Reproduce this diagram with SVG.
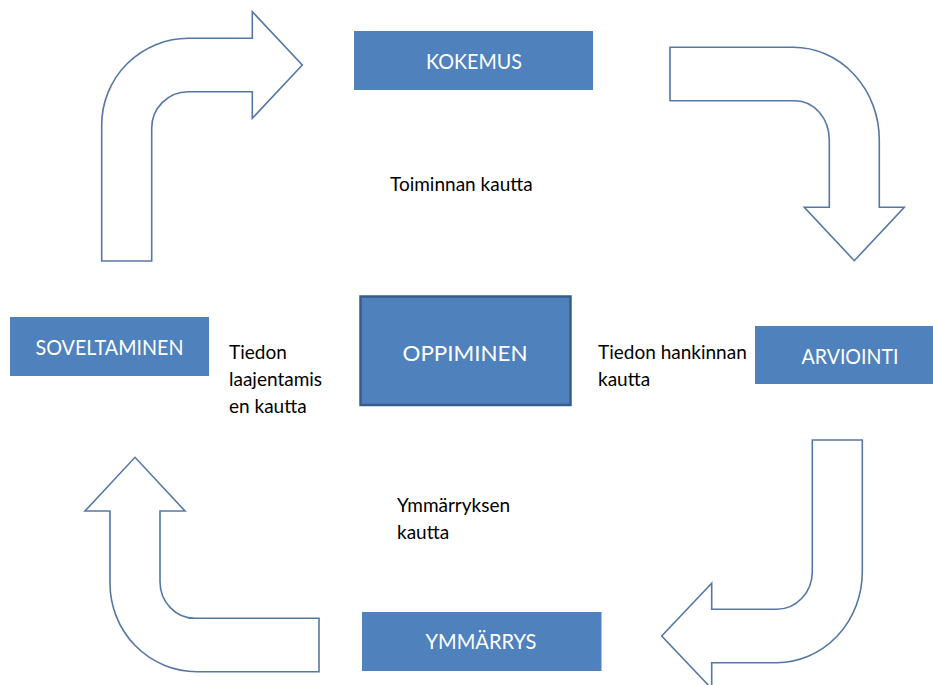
<svg xmlns="http://www.w3.org/2000/svg" width="933" height="685" viewBox="0 0 933 685">
<style>
.arrow{fill:#ffffff;stroke:#5577a6;stroke-width:1.6;stroke-linejoin:miter}
.box{fill:#4f81bd}
.main{fill:#4f81bd;stroke:#385d8a;stroke-width:2.5}
.bt{font-family:Lato,"Open Sans","Liberation Sans",sans-serif;fill:#ffffff;text-anchor:middle;font-size:22px}
.lt{font-family:Lato,"Open Sans","Liberation Sans",sans-serif;fill:#000000;font-size:19px}
</style>
<rect width="933" height="685" fill="#ffffff"/>
<g id="connectors">
<path class="arrow" d="M101.7,261 L101.7,125 A86.6,86.7 0 0 1 188.3,38.3 L252.3,38.3 L252.3,11.7 L302.3,65 L252.3,118.3 L252.3,91.7 L188.3,91.7 A36.6,36.6 0 0 0 151.7,128.3 L151.7,261 Z"/>
<path class="arrow" d="M670,47.3 L793.3,47.3 A86,92.7 0 0 1 879.3,140 L879.3,207.3 L904.3,207.3 L854.3,260.7 L804.3,207.3 L829.3,207.3 L829.3,140 A34.3,39.3 0 0 0 795,100.7 L670,100.7 Z"/>
<path class="arrow" d="M812.3,440 L862.3,440 L862.3,571.7 A85.6,91 0 0 1 776.7,662.7 L711.7,662.7 L711.7,688.7 L661.7,636 L711.7,583.3 L711.7,609.3 L776.7,609.3 A35.6,37.6 0 0 0 812.3,571.7 Z"/>
<path class="arrow" d="M319,618.3 L319,671.7 L196.7,671.7 A86.7,88.4 0 0 1 110,583.3 L110,511 L85,511 L135,457.3 L185,511 L160,511 L160,581.7 A35,36.6 0 0 0 195,618.3 Z"/>
</g>
<g id="kokemus">
<rect class="box" x="354" y="31" width="239" height="59"/>
<text class="bt" x="474" y="69" textLength="96" lengthAdjust="spacingAndGlyphs">KOKEMUS</text>
</g>
<g id="arviointi">
<rect class="box" x="755" y="326" width="190" height="58"/>
<text class="bt" x="850" y="363.5" textLength="97" lengthAdjust="spacingAndGlyphs">ARVIOINTI</text>
</g>
<g id="ymmarrys">
<rect class="box" x="362" y="612" width="239.5" height="59"/>
<text class="bt" x="481" y="649" textLength="111" lengthAdjust="spacingAndGlyphs">YMMÄRRYS</text>
</g>
<g id="soveltaminen">
<rect class="box" x="10" y="317" width="199" height="59"/>
<text class="bt" x="109.5" y="355" textLength="148" lengthAdjust="spacingAndGlyphs">SOVELTAMINEN</text>
</g>
<g id="oppiminen">
<rect class="main" x="360.5" y="296.5" width="210" height="108.5"/>
<text class="bt" x="465" y="361" font-size="25" textLength="125" lengthAdjust="spacingAndGlyphs">OPPIMINEN</text>
</g>
<g id="labels">
<text class="lt" x="390" y="191">Toiminnan kautta</text>
<text class="lt" x="598" y="359">Tiedon hankinnan</text>
<text class="lt" x="598" y="386">kautta</text>
<text class="lt" x="229" y="359">Tiedon</text>
<text class="lt" x="229" y="386">laajentamis</text>
<text class="lt" x="229" y="413">en kautta</text>
<text class="lt" x="397" y="512">Ymmärryksen</text>
<text class="lt" x="397" y="538.5">kautta</text>
</g>
</svg>
